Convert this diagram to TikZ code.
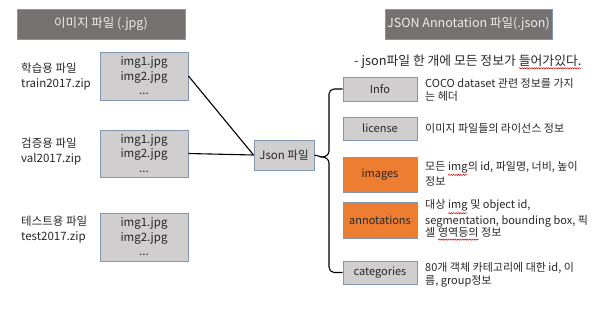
\documentclass[tikz,border=0pt]{standalone}
\usepackage{fontspec}
\setmainfont{Noto Sans CJK KR}
\usetikzlibrary{decorations.pathmorphing}
\newcommand\redwave[1]{\tikz[baseline=(w.base)]{\node[inner sep=0pt,outer sep=0pt](w){#1};\draw[red!85!black, line width=0.5pt, decorate, decoration={snake,amplitude=0.6pt,segment length=2.4pt}] ([yshift=-1.8pt]w.south west) -- ([yshift=-1.8pt]w.south east);}}
\definecolor{boxgray}{HTML}{D0CECE}
\definecolor{boxedge}{HTML}{8497B0}
\definecolor{titlegray}{HTML}{767171}
\definecolor{orng}{HTML}{ED7D31}
\definecolor{txt}{HTML}{262626}
\tikzset{
  base/.style={draw=boxedge, line width=0.9pt, inner sep=0pt, align=center, text=txt},
  titlebox/.style={base, fill=titlegray, text=white!93!black, minimum width=168pt, minimum height=30pt, font=\fontsize{12.5}{15}\selectfont},
  filebox/.style={base, fill=boxgray, minimum width=88pt, minimum height=48pt, font=\fontsize{11.5}{14.5}\selectfont},
  keybox/.style={base, fill=boxgray, minimum width=74pt, font=\fontsize{11}{14}\selectfont},
  keyorange/.style={keybox, fill=orng},
  desc/.style={anchor=west, align=left, inner sep=0pt, text=txt, font=\fontsize{11}{12.8}\selectfont},
  lbl/.style={desc, font=\fontsize{11.5}{15}\selectfont},
  conn/.style={line width=1.1pt, black}
}
\begin{document}
\begin{tikzpicture}[x=1pt, y=-1pt]
\useasboundingbox (0,0) rectangle (600,309);
% titles
\node[titlebox] (t1) at (101,24) {이미지 파일 (.jpg)};
\node[titlebox, minimum width=167pt] (t2) at (468.5,24) {JSON Annotation 파일(.json)};
% file boxes
\node[filebox] (b1) at (144,76) {img1.jpg\\img2.jpg\\...};
\node[filebox, minimum height=47pt] (b2) at (144,153.5) {img1.jpg\\img2.jpg\\...};
\node[filebox] (b3) at (144,237) {img1.jpg\\img2.jpg\\...};
\node[lbl] (l1) at (21,77) {학습용 파일\\train2017.zip};
\node[lbl] (l2) at (21,152) {검증용 파일\\val2017.zip};
\node[lbl] (l3) at (21,230) {테스트용 파일\\test2017.zip};
% json
\node[base, fill=boxgray, minimum width=60pt, minimum height=30pt, font=\fontsize{11.5}{14}\selectfont] (js) at (284,155) {Json 파일};
% keys
\node[keybox, minimum height=24pt] (k1) at (380,89) {Info};
\node[keybox, minimum height=23pt] (k2) at (380,128.5) {license};
\node[keyorange, minimum height=35pt] (k3) at (380,174.5) {images};
\node[keyorange, minimum height=36pt] (k4) at (380,220) {annotations};
\node[keybox, minimum height=23pt] (k5) at (380,272.5) {categories};
% subtitle and descriptions
\node[desc, font=\fontsize{12.8}{15}\selectfont] (sub) at (354,62) {- json파일 한 개에 모든 정보가 \redwave{들어가있다.}};
\node[desc] (d1) at (425,89.5) {COCO dataset 관련 정보를 가지\\는 헤더};
\node[desc] (d2) at (425,128) {이미지 파일들의 라이선스 정보};
\node[desc] (d3) at (425,174) {모든 \redwave{img}의 id, 파일명, 너비, 높이\\정보};
\node[desc] (d4) at (425,220) {대상 \redwave{img} 및 object id,\\segmentation, bounding box, 픽\\셀 \redwave{영역등의} 정보};
\node[desc] (d5) at (425,274.5) {80개 객체 카테고리에 대한 id, 이\\름, group정보};
% connectors
\draw[conn] (b1.east) -- (js.west);
\draw[conn] (b2.east) -- (js.west);
\coordinate (tip) at (322,157);
\draw[conn] (js.east) -- (tip);
\draw[conn] (k1.west) -- (334,89) to[out=180,in=90] (329,94) -- (329,151) to[out=-90,in=0] (tip)
  to[out=0,in=90] (329,163) -- (329,267) to[out=-90,in=180] (334,272.5) -- (k5.west);
\end{tikzpicture}
\end{document}
